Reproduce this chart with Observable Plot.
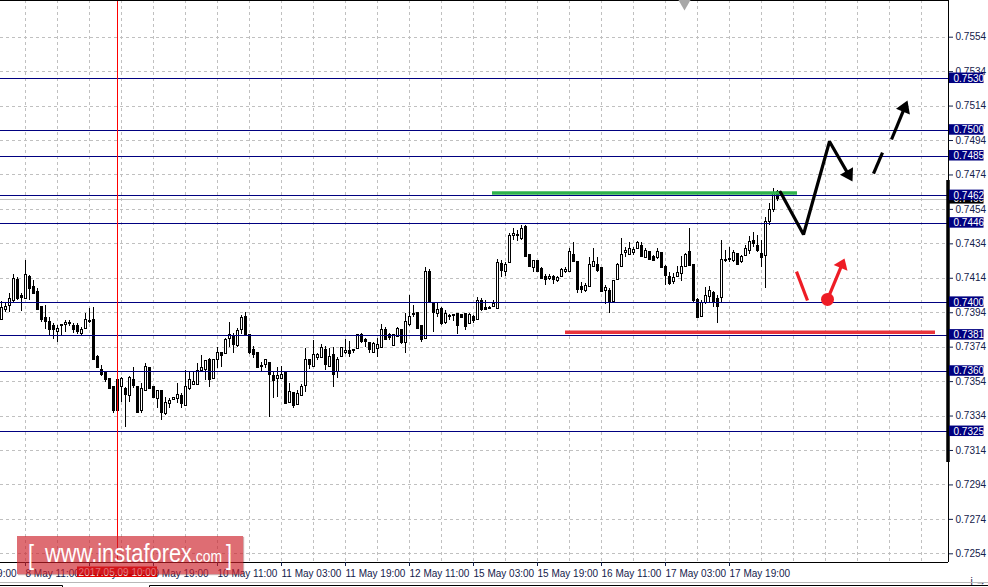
<!DOCTYPE html>
<html><head><meta charset="utf-8">
<script src="https://cdn.jsdelivr.net/npm/d3@7"></script>
<script src="https://cdn.jsdelivr.net/npm/@observablehq/plot@0.6"></script>
<style>
html,body{margin:0;padding:0;background:#fff;}
#wrap{position:relative;width:988px;height:587px;overflow:hidden;font-family:"Liberation Sans",Arial,sans-serif;}
#wm{position:absolute;left:17px;top:536px;width:226px;height:38px;background:rgba(205,30,40,0.65);box-shadow:1px 1px 1px rgba(120,20,25,0.35);}
#tabs{position:absolute;left:0;top:575px;}
</style></head><body><div id="wrap"></div>
<script>
// ---- candles (H1 bars, index 0 = leftmost visible bar) ----
const open = [
0.73899,0.73957,0.73978,0.74007,0.74131,0.74040,0.74021,0.74150,0.74092,0.74063,
0.73972,0.73910,0.73885,0.73860,0.73827,0.73860,0.73868,0.73883,0.73860,0.73860,
0.73817,0.73846,0.73893,0.73899,0.73682,0.73608,0.73591,0.73556,0.73511,0.73372,
0.73511,0.73498,0.73459,0.73550,0.73511,0.73368,0.73488,0.73620,0.73511,0.73440,
0.73484,0.73349,0.73411,0.73434,0.73440,0.73459,0.73397,0.73498,0.73523,0.73521,
0.73604,0.73608,0.73666,0.73556,0.73666,0.73705,0.73701,0.73788,0.73802,0.73749,
0.73837,0.73918,0.73808,0.73721,0.73707,0.73630,0.73634,0.73649,0.73572,0.73556,
0.73556,0.73595,0.73415,0.73473,0.73407,0.73459,0.73517,0.73663,0.73624,0.73678,
0.73678,0.73721,0.73624,0.73692,0.73595,0.73682,0.73705,0.73717,0.73716,0.73730,
0.73812,0.73783,0.73763,0.73705,0.73730,0.73736,0.73837,0.73808,0.73744,0.73798,
0.73837,0.73763,0.73870,0.73925,0.73941,0.73860,0.73788,0.74179,0.73996,0.73930,
0.73963,0.73879,0.73919,0.73921,0.73930,0.73924,0.73933,0.73876,0.73918,0.73895,
0.74007,0.73968,0.73969,0.73976,0.73963,0.74224,0.74176,0.74228,0.74383,0.74388,
0.74369,0.74437,0.74278,0.74200,0.74243,0.74195,0.74150,0.74135,0.74150,0.74123,
0.74150,0.74175,0.74175,0.74278,0.74233,0.74092,0.74065,0.74088,0.74208,0.74220,
0.74200,0.74065,0.74069,0.74001,0.74131,0.74204,0.74286,0.74278,0.74286,0.74311,
0.74330,0.74259,0.74292,0.74263,0.74259,0.74286,0.74208,0.74146,0.74117,0.74146,
0.74162,0.74208,0.74292,0.74220,0.74011,0.73914,0.73995,0.74030,0.74053,0.74020,
0.74026,0.74241,0.74245,0.74243,0.74282,0.74232,0.74272,0.74300,0.74359,0.74330,
0.74282,0.74272,0.74466,0.74534,0.74640];
const high = [
0.74007,0.73992,0.74049,0.74160,0.74146,0.74049,0.74243,0.74155,0.74127,0.74083,
0.73975,0.73982,0.73910,0.73875,0.73866,0.73872,0.73895,0.73893,0.73875,0.73875,
0.73852,0.73934,0.73962,0.73972,0.73691,0.73633,0.73600,0.73559,0.73513,0.73566,
0.73566,0.73508,0.73569,0.73624,0.73513,0.73527,0.73647,0.73622,0.73513,0.73490,
0.73486,0.73449,0.73440,0.73449,0.73527,0.73469,0.73604,0.73600,0.73600,0.73643,
0.73691,0.73664,0.73672,0.73668,0.73736,0.73707,0.73788,0.73885,0.73817,0.73846,
0.73924,0.73943,0.73815,0.73744,0.73710,0.73653,0.73666,0.73651,0.73595,0.73624,
0.73628,0.73597,0.73527,0.73475,0.73488,0.73523,0.73730,0.73665,0.73779,0.73705,
0.73755,0.73744,0.73730,0.73740,0.73682,0.73740,0.73783,0.73775,0.73721,0.73810,
0.73817,0.73788,0.73769,0.73769,0.73788,0.73872,0.73856,0.73817,0.73810,0.73856,
0.73839,0.73933,0.74040,0.73982,0.73943,0.73862,0.74205,0.74189,0.74001,0.73992,
0.73968,0.73953,0.73930,0.73930,0.73933,0.73930,0.73937,0.73933,0.73924,0.74026,
0.74020,0.74011,0.73976,0.74011,0.74247,0.74243,0.74233,0.74398,0.74427,0.74417,
0.74446,0.74446,0.74280,0.74245,0.74245,0.74200,0.74162,0.74162,0.74158,0.74150,
0.74195,0.74200,0.74311,0.74350,0.74235,0.74117,0.74108,0.74263,0.74311,0.74259,
0.74202,0.74098,0.74079,0.74125,0.74228,0.74369,0.74321,0.74350,0.74321,0.74353,
0.74350,0.74311,0.74294,0.74272,0.74311,0.74288,0.74214,0.74175,0.74166,0.74208,
0.74266,0.74286,0.74427,0.74222,0.74020,0.74011,0.74084,0.74092,0.74065,0.74040,
0.74359,0.74301,0.74321,0.74301,0.74284,0.74270,0.74330,0.74385,0.74408,0.74388,
0.74359,0.74495,0.74572,0.74660,0.74650];
const low = [
0.73895,0.73943,0.73943,0.74001,0.74011,0.73947,0.74015,0.74011,0.74045,0.73950,
0.73885,0.73840,0.73808,0.73783,0.73769,0.73808,0.73827,0.73860,0.73821,0.73813,
0.73802,0.73843,0.73879,0.73664,0.73614,0.73569,0.73537,0.73495,0.73353,0.73343,
0.73420,0.73275,0.73420,0.73498,0.73353,0.73357,0.73484,0.73492,0.73440,0.73382,
0.73314,0.73343,0.73382,0.73430,0.73411,0.73382,0.73395,0.73488,0.73521,0.73519,
0.73602,0.73546,0.73508,0.73550,0.73614,0.73624,0.73699,0.73740,0.73701,0.73740,
0.73813,0.73806,0.73695,0.73672,0.73618,0.73595,0.73614,0.73333,0.73440,0.73446,
0.73550,0.73407,0.73411,0.73382,0.73401,0.73457,0.73479,0.73608,0.73622,0.73663,
0.73676,0.73604,0.73622,0.73508,0.73556,0.73678,0.73697,0.73678,0.73701,0.73725,
0.73763,0.73740,0.73705,0.73701,0.73678,0.73730,0.73780,0.73779,0.73742,0.73794,
0.73755,0.73701,0.73860,0.73914,0.73844,0.73769,0.73786,0.73992,0.73827,0.73914,
0.73866,0.73872,0.73895,0.73891,0.73813,0.73904,0.73837,0.73872,0.73879,0.73893,
0.73949,0.73953,0.73957,0.73968,0.73961,0.74146,0.74150,0.74225,0.74360,0.74356,
0.74360,0.74264,0.74204,0.74175,0.74173,0.74131,0.74098,0.74127,0.74104,0.74117,
0.74146,0.74170,0.74173,0.74230,0.74050,0.74050,0.74059,0.74086,0.74200,0.74175,
0.74057,0.73988,0.73937,0.73995,0.74127,0.74200,0.74263,0.74272,0.74272,0.74309,
0.74263,0.74253,0.74243,0.74239,0.74247,0.74195,0.74098,0.74098,0.74104,0.74142,
0.74123,0.74200,0.74208,0.73995,0.73904,0.73910,0.73988,0.73995,0.73968,0.73879,
0.74001,0.74233,0.74233,0.74233,0.74214,0.74225,0.74265,0.74280,0.74320,0.74290,
0.74204,0.74079,0.74446,0.74524,0.74588];
const close = [
0.73968,0.73972,0.74021,0.74137,0.74021,0.74024,0.74160,0.74079,0.74049,0.73953,
0.73895,0.73885,0.73840,0.73837,0.73846,0.73862,0.73883,0.73872,0.73840,0.73827,
0.73840,0.73899,0.73890,0.73666,0.73620,0.73581,0.73550,0.73498,0.73372,0.73550,
0.73556,0.73465,0.73562,0.73517,0.73357,0.73498,0.73624,0.73498,0.73446,0.73488,
0.73357,0.73416,0.73430,0.73446,0.73465,0.73411,0.73511,0.73550,0.73540,0.73599,
0.73620,0.73662,0.73550,0.73666,0.73705,0.73691,0.73779,0.73808,0.73755,0.73833,
0.73910,0.73808,0.73705,0.73697,0.73620,0.73628,0.73663,0.73576,0.73546,0.73570,
0.73581,0.73411,0.73479,0.73401,0.73469,0.73511,0.73666,0.73634,0.73692,0.73692,
0.73736,0.73634,0.73682,0.73576,0.73666,0.73736,0.73717,0.73701,0.73718,0.73808,
0.73769,0.73769,0.73721,0.73759,0.73755,0.73841,0.73783,0.73794,0.73808,0.73846,
0.73763,0.73885,0.73914,0.73928,0.73846,0.73779,0.74176,0.73996,0.73937,0.73957,
0.73872,0.73930,0.73917,0.73923,0.73860,0.73910,0.73856,0.73924,0.73891,0.74007,
0.73953,0.73957,0.73967,0.73992,0.74228,0.74180,0.74218,0.74383,0.74398,0.74390,
0.74427,0.74266,0.74208,0.74243,0.74175,0.74137,0.74131,0.74150,0.74131,0.74142,
0.74189,0.74189,0.74292,0.74233,0.74073,0.74073,0.74098,0.74220,0.74233,0.74181,
0.74059,0.74084,0.74001,0.74123,0.74220,0.74278,0.74301,0.74311,0.74305,0.74344,
0.74266,0.74301,0.74247,0.74243,0.74292,0.74200,0.74156,0.74108,0.74142,0.74170,
0.74208,0.74278,0.74214,0.74007,0.73910,0.73995,0.74040,0.74065,0.73995,0.73976,
0.74247,0.74245,0.74249,0.74286,0.74220,0.74261,0.74311,0.74350,0.74340,0.74297,
0.74259,0.74466,0.74534,0.74631,0.74600];

// ---- axes ----
const priceTicks = [0.7254,0.7274,0.7294,0.7314,0.7334,0.7354,0.7374,0.7394,0.7414,0.7434,0.7454,0.7474,0.7494,0.7514,0.7534,0.7554];
const timeTickBars = [-10,6,22,38,54,70,86,102,118,134,150,166,182];
const timeTickLabels = ["5 May 19:00","8 May 11:00","9 May 03:00","9 May 19:00","10 May 11:00","11 May 03:00","11 May 19:00","12 May 11:00","15 May 03:00","15 May 19:00","16 May 11:00","17 May 03:00","17 May 19:00"];

// ---- horizontal levels & annotations ----
const levels = [0.7530,0.7500,0.7485,0.7462,0.7446,0.7400,0.7381,0.7360,0.7325];
const bidPrice = 0.7460;
const crosshairBar = 29;
const crosshairLabel = "2017.05.09 10:00";
const greenLine = {from: 122.75, to: 199, price: 0.74635};
const redLine = {from: 141, to: 233.5, price: 0.73827};
const planBars = [194.75, 200.5, 207, 212.75];
const planPrices = [0.74640, 0.74394, 0.74934, 0.74702];
const dashBars = [[218, 220.25], [222.5, 226.5]];
const dashPrices = [[0.74748, 0.74870], [0.74946, 0.75172]];
const redStrokeBars = [198.75, 201.5];
const redStrokePrices = [0.74179, 0.74011];
const redDot = {i: 206.5, p: 0.74017};
const redTip = {i: 210.75, p: 0.74255};
const shiftMarkerBar = 170.75;

// ---- layout ----
const W = 988, H = 587, mR = 40, mB = 25;
const PW = W - mR, PH = H - mB;
const xDomain = [-0.25, 236.75];
const yDomain = [0.724895, 0.757531];
const kY = PH / (yDomain[1] - yDomain[0]);
const kX = PW / (xDomain[1] - xDomain[0]);
const px = i => (i - xDomain[0]) * kX;
const py = p => PH - (p - yDomain[0]) * kY;
const ix = x => xDomain[0] + x / kX;      // pixel -> bar
const ip = y => yDomain[0] + (PH - y) / kY; // pixel -> price
const dP = pix => pix / kY;

function shorten(a, b, pix) {
  const ax = px(a.i), ay = py(a.p), bx = px(b.i), by = py(b.p);
  const L = Math.hypot(bx - ax, by - ay);
  const t = (L - pix) / L;
  return {i: ix(ax + (bx - ax) * t), p: ip(ay + (by - ay) * t)};
}
function angle(a, b) {
  const dx = px(b.i) - px(a.i), dy = py(b.p) - py(a.p);
  return Math.atan2(dx, -dy) * 180 / Math.PI;
}

const bars = open.map((o, k) => ({i: k, o, h: high[k], l: low[k], c: close[k]}));
const minBody = dP(1);

const plan = planBars.map((b, k) => ({i: b, p: planPrices[k]}));
const planEnd = shorten(plan[2], plan[3], 10);
const planLine = [plan[0], plan[1], plan[2], planEnd];
const dashSegs = dashBars.map((s, k) => ({a: {i: s[0], p: dashPrices[k][0]}, b: {i: s[1], p: dashPrices[k][1]}}));
const dash2End = shorten(dashSegs[1].a, dashSegs[1].b, 10);
const redArrowEnd = shorten(redDot, redTip, 9);

const heads = [
  {i: plan[3].i, p: plan[3].p, a: angle(plan[2], plan[3]), c: "black", l: 20},
  {i: dashSegs[1].b.i, p: dashSegs[1].b.p, a: angle(dashSegs[1].a, dashSegs[1].b), c: "black", l: 20},
  {i: redTip.i, p: redTip.p, a: angle(redDot, redTip), c: "#ee1c25", l: 17}
];
const headShape = {draw(ctx, l, r) { ctx.moveTo(0, -l); ctx.lineTo(-r, 0); ctx.lineTo(r, 0); ctx.closePath(); }};

const gridBars = d3.range(6, 236, 8);
const labelBox = [ix(949), ix(983.5)];
const txtCol = "#13204a";
const crisp = {shapeRendering: "crispEdges"};

const chart = Plot.plot({
  width: W, height: H,
  marginLeft: 0, marginRight: mR, marginTop: 0, marginBottom: mB,
  x: {domain: xDomain, axis: null},
  y: {domain: yDomain, axis: null},
  color: {type: "identity"},
  style: {fontFamily: "'Liberation Sans', Arial, sans-serif", fontSize: "10px", color: txtCol, background: "white"},
  marks: [
    Plot.ruleY(priceTicks, {stroke: "#c0c0c0", strokeDasharray: "3,3", ...crisp}),
    Plot.ruleX(gridBars, {stroke: "#c0c0c0", strokeDasharray: "3,3", ...crisp}),
    Plot.ruleY([bidPrice], {stroke: "#c0c0c0", ...crisp}),
    // candles
    Plot.ruleX(bars, {x: "i", y1: "l", y2: "h", stroke: "black", ...crisp}),
    Plot.rect(bars, {
      x1: d => d.i - 0.25, x2: d => d.i + 0.25,
      y1: "o",
      y2: d => Math.abs(d.c - d.o) < minBody ? d.o + (d.c >= d.o ? minBody : -minBody) : d.c,
      fill: d => d.c >= d.o ? "white" : "black", stroke: "black", ...crisp
    }),
    // levels
    Plot.ruleY(levels, {stroke: "#000080", ...crisp}),
    Plot.ruleX([crosshairBar], {stroke: "#ff0000", ...crisp}),
    Plot.ruleY([greenLine.price], {x1: greenLine.from, x2: greenLine.to, stroke: "#2eb24c", strokeWidth: 3.5}),
    Plot.ruleY([redLine.price], {x1: redLine.from, x2: redLine.to, stroke: "#e8343c", strokeWidth: 3.5}),
    // forecast arrows
    Plot.line(planLine, {x: "i", y: "p", stroke: "black", strokeWidth: 3.2, strokeLinejoin: "miter"}),
    Plot.link([dashSegs[0]], {x1: d => d.a.i, y1: d => d.a.p, x2: d => d.b.i, y2: d => d.b.p, stroke: "black", strokeWidth: 3.2}),
    Plot.link([dashSegs[1]], {x1: d => d.a.i, y1: d => d.a.p, x2: () => dash2End.i, y2: () => dash2End.p, stroke: "black", strokeWidth: 3.2}),
    Plot.link([0], {x1: () => redStrokeBars[0], y1: () => redStrokePrices[0], x2: () => redStrokeBars[1], y2: () => redStrokePrices[1], stroke: "#ee1c25", strokeWidth: 3.2}),
    Plot.link([0], {x1: () => redDot.i, y1: () => redDot.p, x2: () => redArrowEnd.i, y2: () => redArrowEnd.p, stroke: "#ee1c25", strokeWidth: 3.2}),
    Plot.dot([redDot], {x: "i", y: "p", r: 6.5, fill: "#ee1c25", stroke: "none"}),
    Plot.vector(heads, {x: "i", y: "p", rotate: "a", length: "l", r: 7.5, anchor: "end", shape: headShape, fill: "c", stroke: "none"}),
    // frame
    Plot.ruleY([yDomain[1]], {stroke: "black", ...crisp}),
    Plot.ruleY([yDomain[0]], {stroke: "black", ...crisp}),
    Plot.ruleX([xDomain[1]], {stroke: "black", ...crisp}),
    Plot.ruleX([xDomain[1]], {y1: ip(180), y2: ip(462), stroke: "black", strokeWidth: 3.5, dx: -0.5}),
    Plot.dot([shiftMarkerBar], {x: d => d, y: ip(3), symbol: "triangle", rotate: 180, r: 4.5, fill: "#a8a8a8", stroke: "none"}),
    // axes
    Plot.axisY(priceTicks, {anchor: "right", tickSize: 4, tickPadding: 3, tickFormat: d => d.toFixed(4)}),
    Plot.axisX(timeTickBars, {anchor: "bottom", tickSize: 4, tickPadding: 3, textAnchor: "start", dx: 0,
      tickFormat: d => timeTickLabels[timeTickBars.indexOf(d)]}),
    // price labels
    Plot.rect([bidPrice], {x1: labelBox[0], x2: labelBox[1], y1: d => d - dP(5), y2: d => d + dP(5), fill: "black"}),
    Plot.text([bidPrice], {x: ix(953), y: d => d, text: d => d.toFixed(4), textAnchor: "start", fill: "white"}),
    Plot.rect(levels, {x1: labelBox[0], x2: labelBox[1], y1: d => d - dP(5), y2: d => d + dP(5.5), fill: "#000080"}),
    Plot.text(levels, {x: ix(953), y: d => d, text: d => d.toFixed(4), textAnchor: "start", fill: "white"}),
    // crosshair time label
    Plot.rect([crosshairBar], {x1: d => d - 10, x2: d => d + 10, y1: yDomain[0] - dP(4.5), y2: yDomain[0] - dP(15), fill: "#e00000"}),
    Plot.text([crosshairBar], {x: d => d, y: yDomain[0] - dP(10), text: () => crosshairLabel, fill: "white"})
  ]
});

const wrap = document.getElementById("wrap");
wrap.appendChild(chart);

// watermark
const wm = document.createElement("div");
wm.id = "wm";
wm.innerHTML = `<svg width="226" height="38" xmlns="http://www.w3.org/2000/svg" style="display:block">
  <g fill="white" font-family="'Liberation Sans', Arial, sans-serif">
    <text x="11" y="28" font-size="27" font-weight="300" textLength="6" lengthAdjust="spacingAndGlyphs">[</text>
    <text x="28" y="26" font-size="25" textLength="147" lengthAdjust="spacingAndGlyphs">www.instaforex</text>
    <text x="175" y="26" font-size="16" textLength="30" lengthAdjust="spacingAndGlyphs">.com</text>
    <text x="209" y="28" font-size="27" font-weight="300" textLength="6" lengthAdjust="spacingAndGlyphs">]</text>
  </g></svg>`;
wrap.appendChild(wm);

// bottom tabs
const tabs = document.createElementNS("http://www.w3.org/2000/svg", "svg");
tabs.setAttribute("id", "tabs");
tabs.setAttribute("width", "988"); tabs.setAttribute("height", "12");
tabs.innerHTML = `<line x1="0" x2="988" y1="7.5" y2="7.5" stroke="#b8b8b8"/>
  <path d="M0,10.5H62.5V12 M149.5,12V10.5H988" fill="none" stroke="black"/>`;
wrap.appendChild(tabs);
</script></body></html>
